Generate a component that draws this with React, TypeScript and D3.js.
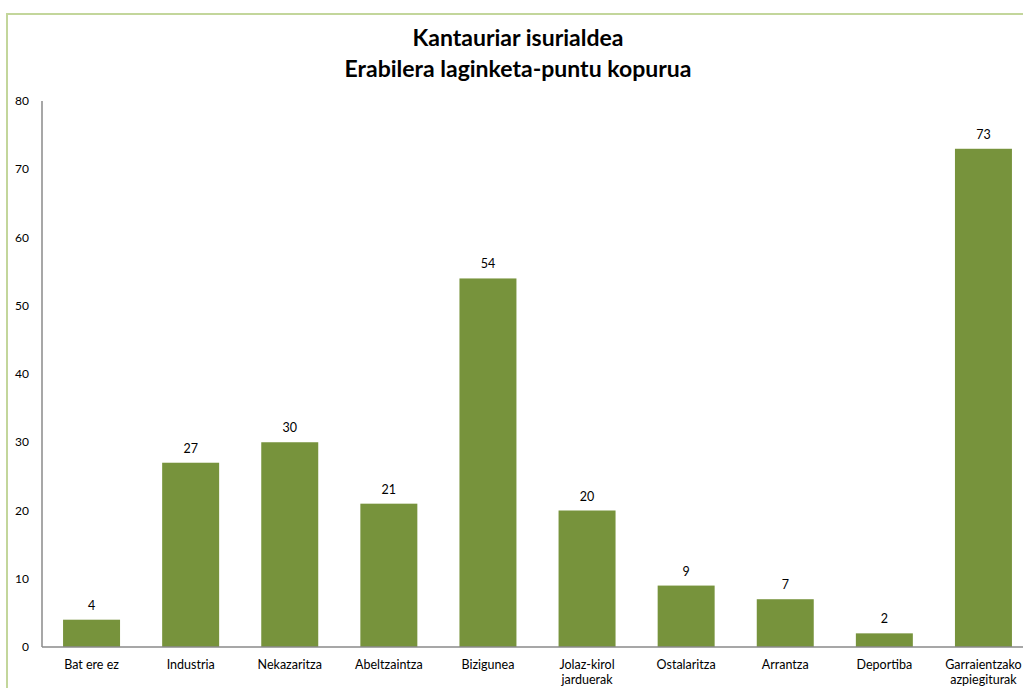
import React from "react";
import * as d3 from "d3";

const categories: string[][] = [
  ["Bat ere ez"],
  ["Industria"],
  ["Nekazaritza"],
  ["Abeltzaintza"],
  ["Bizigunea"],
  ["Jolaz-kirol", "jarduerak"],
  ["Ostalaritza"],
  ["Arrantza"],
  ["Deportiba"],
  ["Garraientzako", "azpiegiturak"],
];
const values: number[] = [4, 27, 30, 21, 54, 20, 9, 7, 2, 73];
const yTicks: number[] = [0, 10, 20, 30, 40, 50, 60, 70, 80];
const titleLines: string[] = ["Kantauriar isurialdea", "Erabilera laginketa-puntu kopurua"];

const W = 1023;
const H = 688;
const FONT = "Lato, 'Open Sans', sans-serif";

export default function App() {
  const keys = categories.map((c) => c.join(" "));
  const x = d3.scaleBand<string>().domain(keys).range([42, 1033]).paddingInner(0.425).paddingOuter(0.2125);
  const y = d3.scaleLinear().domain([0, 80]).range([647, 101]);
  return (
    <svg width={W} height={H} style={{ position: "absolute", left: 0, top: 0, background: "#fff" }}>
      <rect x={7} y={14} width={1040} height={700} fill="none" stroke="#C3D69B" strokeWidth={2} />
      {titleLines.map((t, i) => (
        <text key={i} x={518} y={46 + i * 31} textAnchor="middle" fontFamily={FONT} fontWeight="bold" fontSize={23} fill="#000">
          {t}
        </text>
      ))}
      {yTicks.map((t) => (
        <text key={t} x={29} y={y(t)} dy="0.35em" textAnchor="end" fontFamily={FONT} fontSize={12} fill="#000">
          {t}
        </text>
      ))}
      {values.map((v, i) => {
        const k = keys[i];
        const bx = x(k)!;
        return (
          <g key={k}>
            <rect x={bx} y={y(v)} width={x.bandwidth()} height={y(0) - y(v)} fill="#77933C" />
            <text x={bx + x.bandwidth() / 2} y={y(v) - 10} textAnchor="middle" fontFamily={FONT} fontSize={12.5} fill="#000">
              {v}
            </text>
            {categories[i].map((line, j) => (
              <text key={j} x={bx + x.bandwidth() / 2} y={669 + j * 15} textAnchor="middle" fontFamily={FONT} fontSize={12.5} fill="#000">
                {line}
              </text>
            ))}
          </g>
        );
      })}
      <line x1={42} x2={1033} y1={647} y2={647} stroke="#8a8a8a" strokeWidth={1.5} />
      <line x1={42} x2={42} y1={101} y2={647} stroke="#8a8a8a" strokeWidth={1.5} />
    </svg>
  );
}
